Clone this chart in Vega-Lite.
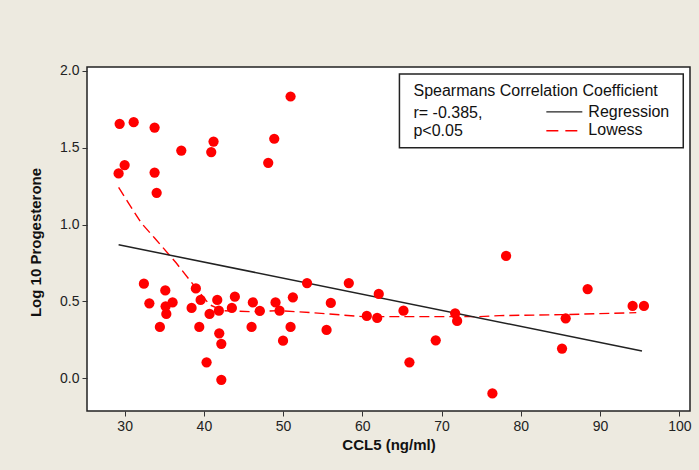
{
  "$schema": "https://vega.github.io/schema/vega-lite/v6.json",
  "width": 603,
  "height": 344,
  "autosize": {"type": "none"},
  "padding": {"left": 87, "top": 67, "right": 9, "bottom": 59},
  "background": "#EDEAE0",
  "config": {
    "view": {"fill": "white", "stroke": "#222222", "strokeWidth": 1.5},
    "axis": {
      "grid": false,
      "domain": false,
      "tickColor": "#333333",
      "tickSize": 5,
      "labelPadding": 3,
      "labelFont": "Liberation Sans",
      "labelFontSize": 14,
      "labelColor": "#222222",
      "titleFont": "Liberation Sans",
      "titleFontSize": 15,
      "titleFontWeight": "bold",
      "titleColor": "#111111"
    }
  },
  "datasets": {
    "points": [
      {"ccl5": 29.37, "prog": 1.656}, {"ccl5": 31.14, "prog": 1.667}, {"ccl5": 33.78, "prog": 1.632},
      {"ccl5": 50.94, "prog": 1.834}, {"ccl5": 37.15, "prog": 1.482}, {"ccl5": 40.93, "prog": 1.472},
      {"ccl5": 41.22, "prog": 1.541}, {"ccl5": 48.88, "prog": 1.559}, {"ccl5": 48.12, "prog": 1.402},
      {"ccl5": 30.0, "prog": 1.388}, {"ccl5": 29.24, "prog": 1.333}, {"ccl5": 33.78, "prog": 1.339},
      {"ccl5": 34.04, "prog": 1.207}, {"ccl5": 32.43, "prog": 0.616}, {"ccl5": 35.13, "prog": 0.572},
      {"ccl5": 38.99, "prog": 0.585}, {"ccl5": 33.12, "prog": 0.488}, {"ccl5": 36.05, "prog": 0.494},
      {"ccl5": 35.17, "prog": 0.468}, {"ccl5": 35.26, "prog": 0.419}, {"ccl5": 39.59, "prog": 0.51},
      {"ccl5": 38.45, "prog": 0.458}, {"ccl5": 34.45, "prog": 0.334}, {"ccl5": 41.69, "prog": 0.51},
      {"ccl5": 43.91, "prog": 0.531}, {"ccl5": 40.72, "prog": 0.419}, {"ccl5": 41.89, "prog": 0.44},
      {"ccl5": 43.53, "prog": 0.458}, {"ccl5": 46.18, "prog": 0.494}, {"ccl5": 47.06, "prog": 0.438},
      {"ccl5": 49.04, "prog": 0.494}, {"ccl5": 49.55, "prog": 0.44}, {"ccl5": 51.23, "prog": 0.527},
      {"ccl5": 53.02, "prog": 0.62}, {"ccl5": 39.42, "prog": 0.334}, {"ccl5": 46.02, "prog": 0.334},
      {"ccl5": 50.94, "prog": 0.334}, {"ccl5": 41.94, "prog": 0.293}, {"ccl5": 42.2, "prog": 0.224},
      {"ccl5": 49.99, "prog": 0.245}, {"ccl5": 40.34, "prog": 0.104}, {"ccl5": 42.2, "prog": -0.01},
      {"ccl5": 58.29, "prog": 0.62}, {"ccl5": 56.02, "prog": 0.49}, {"ccl5": 55.48, "prog": 0.315},
      {"ccl5": 62.07, "prog": 0.549}, {"ccl5": 60.56, "prog": 0.406}, {"ccl5": 61.87, "prog": 0.393},
      {"ccl5": 65.19, "prog": 0.44}, {"ccl5": 65.94, "prog": 0.104}, {"ccl5": 69.26, "prog": 0.247},
      {"ccl5": 71.71, "prog": 0.423}, {"ccl5": 71.96, "prog": 0.373}, {"ccl5": 78.14, "prog": 0.796},
      {"ccl5": 76.41, "prog": -0.099}, {"ccl5": 88.43, "prog": 0.581}, {"ccl5": 85.66, "prog": 0.39},
      {"ccl5": 85.2, "prog": 0.193}, {"ccl5": 94.11, "prog": 0.471}, {"ccl5": 95.54, "prog": 0.471}
    ],
    "regression": [
      {"ccl5": 29.24, "prog": 0.869},
      {"ccl5": 95.29, "prog": 0.178}
    ],
    "lowess": [
      {"ccl5": 29.24, "prog": 1.242}, {"ccl5": 30.63, "prog": 1.129}, {"ccl5": 32.11, "prog": 1.01},
      {"ccl5": 33.78, "prog": 0.913}, {"ccl5": 36.52, "prog": 0.75}, {"ccl5": 38.83, "prog": 0.598},
      {"ccl5": 40.72, "prog": 0.479}, {"ccl5": 42.36, "prog": 0.44}, {"ccl5": 45.76, "prog": 0.434},
      {"ccl5": 49.55, "prog": 0.44}, {"ccl5": 53.71, "prog": 0.427}, {"ccl5": 60.02, "prog": 0.401},
      {"ccl5": 67.21, "prog": 0.401}, {"ccl5": 74.78, "prog": 0.401}, {"ccl5": 77.29, "prog": 0.408},
      {"ccl5": 85.24, "prog": 0.414}, {"ccl5": 94.57, "prog": 0.427}
    ],
    "box": [
      {"x1": 64.68, "x2": 100.5, "y1": 1.5, "y2": 1.981}
    ],
    "notes": [
      {"x": 66.45, "y": 1.871, "label": "Spearmans Correlation Coefficient"},
      {"x": 66.45, "y": 1.728, "label": "r= -0.385,"},
      {"x": 66.45, "y": 1.611, "label": "p<0.05"},
      {"x": 88.52, "y": 1.734, "label": "Regression"},
      {"x": 88.52, "y": 1.613, "label": "Lowess"}
    ],
    "keys": [
      {"x1": 83.22, "x2": 87.76, "y": 1.734, "series": "Regression"},
      {"x1": 83.22, "x2": 87.13, "y": 1.611, "series": "Lowess"}
    ]
  },
  "layer": [
    {
      "data": {"name": "lowess"},
      "mark": {"type": "line", "color": "#FF0000", "strokeWidth": 1.4, "strokeDash": [10, 5]},
      "encoding": {
        "x": {"field": "ccl5", "type": "quantitative", "scale": {"domain": [25.25, 101.35], "nice": false, "zero": false},
              "axis": {"values": [30, 40, 50, 60, 70, 80, 90, 100], "title": "CCL5 (ng/ml)", "titleY": 33, "titleBaseline": "middle"}},
        "y": {"field": "prog", "type": "quantitative", "scale": {"domain": [-0.213, 2.026], "nice": false, "zero": false},
              "axis": {"values": [0, 0.5, 1, 1.5, 2], "format": ".1f", "title": "Log 10 Progesterone", "titleX": -52, "titleY": 175, "titleBaseline": "middle"}}
      }
    },
    {
      "data": {"name": "regression"},
      "mark": {"type": "line", "color": "#222222", "strokeWidth": 1.5},
      "encoding": {
        "x": {"field": "ccl5", "type": "quantitative"},
        "y": {"field": "prog", "type": "quantitative"}
      }
    },
    {
      "data": {"name": "points"},
      "mark": {"type": "point", "filled": true, "shape": "circle", "color": "#FF0000", "opacity": 1, "size": 105},
      "encoding": {
        "x": {"field": "ccl5", "type": "quantitative"},
        "y": {"field": "prog", "type": "quantitative"}
      }
    },
    {
      "data": {"name": "box"},
      "mark": {"type": "rect", "fill": "white", "stroke": "#222222", "strokeWidth": 1.5},
      "encoding": {
        "x": {"field": "x1", "type": "quantitative"},
        "x2": {"field": "x2"},
        "y": {"field": "y1", "type": "quantitative"},
        "y2": {"field": "y2"}
      }
    },
    {
      "data": {"name": "keys"},
      "mark": {"type": "rule", "strokeWidth": 1.4},
      "encoding": {
        "x": {"field": "x1", "type": "quantitative"},
        "x2": {"field": "x2"},
        "y": {"field": "y", "type": "quantitative"},
        "color": {"field": "series", "type": "nominal", "scale": {"domain": ["Regression", "Lowess"], "range": ["#222222", "#FF0000"]}, "legend": null},
        "strokeDash": {"field": "series", "type": "nominal", "scale": {"domain": ["Regression", "Lowess"], "range": [[1, 0], [12, 7]]}, "legend": null}
      }
    },
    {
      "data": {"name": "notes"},
      "mark": {"type": "text", "align": "left", "baseline": "middle", "font": "Liberation Sans", "fontSize": 16, "color": "#111111"},
      "encoding": {
        "x": {"field": "x", "type": "quantitative"},
        "y": {"field": "y", "type": "quantitative"},
        "text": {"field": "label"}
      }
    }
  ]
}
